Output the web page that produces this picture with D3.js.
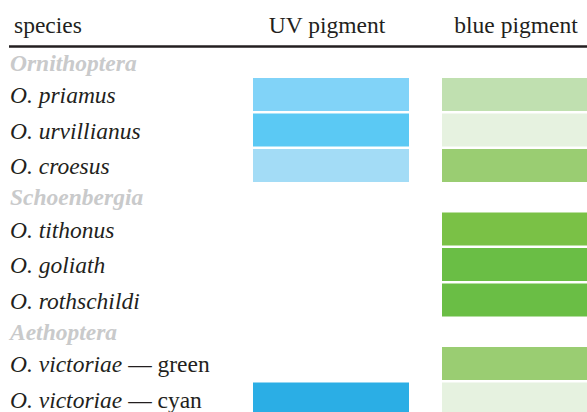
<!DOCTYPE html>
<html>
<head>
<meta charset="utf-8">
<title>Ornithoptera pigments</title>
<script src="https://d3js.org/d3.v7.min.js"></script>
<style>
  body { margin: 0; background: #fff; }
  svg text { font-family: "Times New Roman", "Liberation Serif", Times, serif; font-size: 23.5px; fill: #231f20; }
</style>
</head>
<body>
<svg id="chart" width="587" height="412"></svg>
<script>
// rows in order: group headers and species
var rowNames = ["Ornithoptera", "O. priamus", "O. urvillianus", "O. croesus",
                "Schoenbergia", "O. tithonus", "O. goliath", "O. rothschildi",
                "Aethoptera", "O. victoriae — green", "O. victoriae — cyan"];
var isGroup = [1, 0, 0, 0, 1, 0, 0, 0, 1, 0, 0];
// pigment levels read from the shading (0 = none)
var uvLevel   = [0, 2, 3, 1, 0, 0, 0, 0, 0, 0, 4];
var blueLevel = [0, 2, 1, 3, 0, 4, 5, 5, 0, 3, 1];
var columns = ["UV pigment", "blue pigment"];

var svg = d3.select("#chart");
var W = 587;

// row heights: group rows shorter than species rows
var rowH = isGroup.map(function(g) { return g ? 28 : 35.5; });
var offsets = [0].concat(Array.from(d3.cumsum(rowH)));
var total = offsets[offsets.length - 1];
var y = d3.scaleLinear().domain([0, total]).range([50, 50 + total]);

var x = d3.scaleOrdinal().domain(columns).range([253, 442]);
var barW = 156;

var uvColor = d3.scaleOrdinal().domain([1, 2, 3, 4]).range(["#a3dcf6", "#81d3f8", "#5bc9f4", "#2baee5"]);
var blueColor = d3.scaleOrdinal().domain([1, 2, 3, 4, 5]).range(["#e6f2e0", "#c0e0b0", "#9acd72", "#7ac146", "#6abe45"]);

// header
svg.append("text").attr("x", 14).attr("y", 33).text("species");
svg.selectAll(".colhead").data(columns).enter().append("text")
  .attr("class", "colhead")
  .attr("x", function(d) { return x(d) + barW / 2 - 4; })
  .attr("y", 33)
  .attr("text-anchor", "middle")
  .text(function(d) { return d; });
svg.append("line").attr("x1", 9).attr("x2", W).attr("y1", 46.5).attr("y2", 46.5)
  .attr("stroke", "#231f20").attr("stroke-width", 2.4);

var rows = rowNames.map(function(n, i) {
  return { name: n, group: isGroup[i], uv: uvLevel[i], blue: blueLevel[i], top: offsets[i] };
});

// labels
rows.forEach(function(r) {
  var t = svg.append("text").attr("x", 10).attr("y", y(r.top) + (r.group ? 20.5 : 25));
  if (r.group) {
    t.style("font-weight", "bold").style("font-style", "italic").style("fill", "#c9cacb").text(r.name);
  } else {
    var parts = r.name.split(" — ");
    t.append("tspan").style("font-style", "italic").text(parts[0]);
    if (parts[1]) t.append("tspan").text(" — " + parts[1]);
  }
});

// bars
svg.selectAll(".uv").data(rows.filter(function(r) { return r.uv > 0; })).enter().append("rect")
  .attr("class", "uv")
  .attr("x", x("UV pigment")).attr("width", barW)
  .attr("y", function(d) { return y(d.top); }).attr("height", 33)
  .attr("fill", function(d) { return uvColor(d.uv); });

svg.selectAll(".blue").data(rows.filter(function(r) { return r.blue > 0; })).enter().append("rect")
  .attr("class", "blue")
  .attr("x", x("blue pigment")).attr("width", barW)
  .attr("y", function(d) { return y(d.top); }).attr("height", 33)
  .attr("fill", function(d) { return blueColor(d.blue); });
</script>
</body>
</html>
